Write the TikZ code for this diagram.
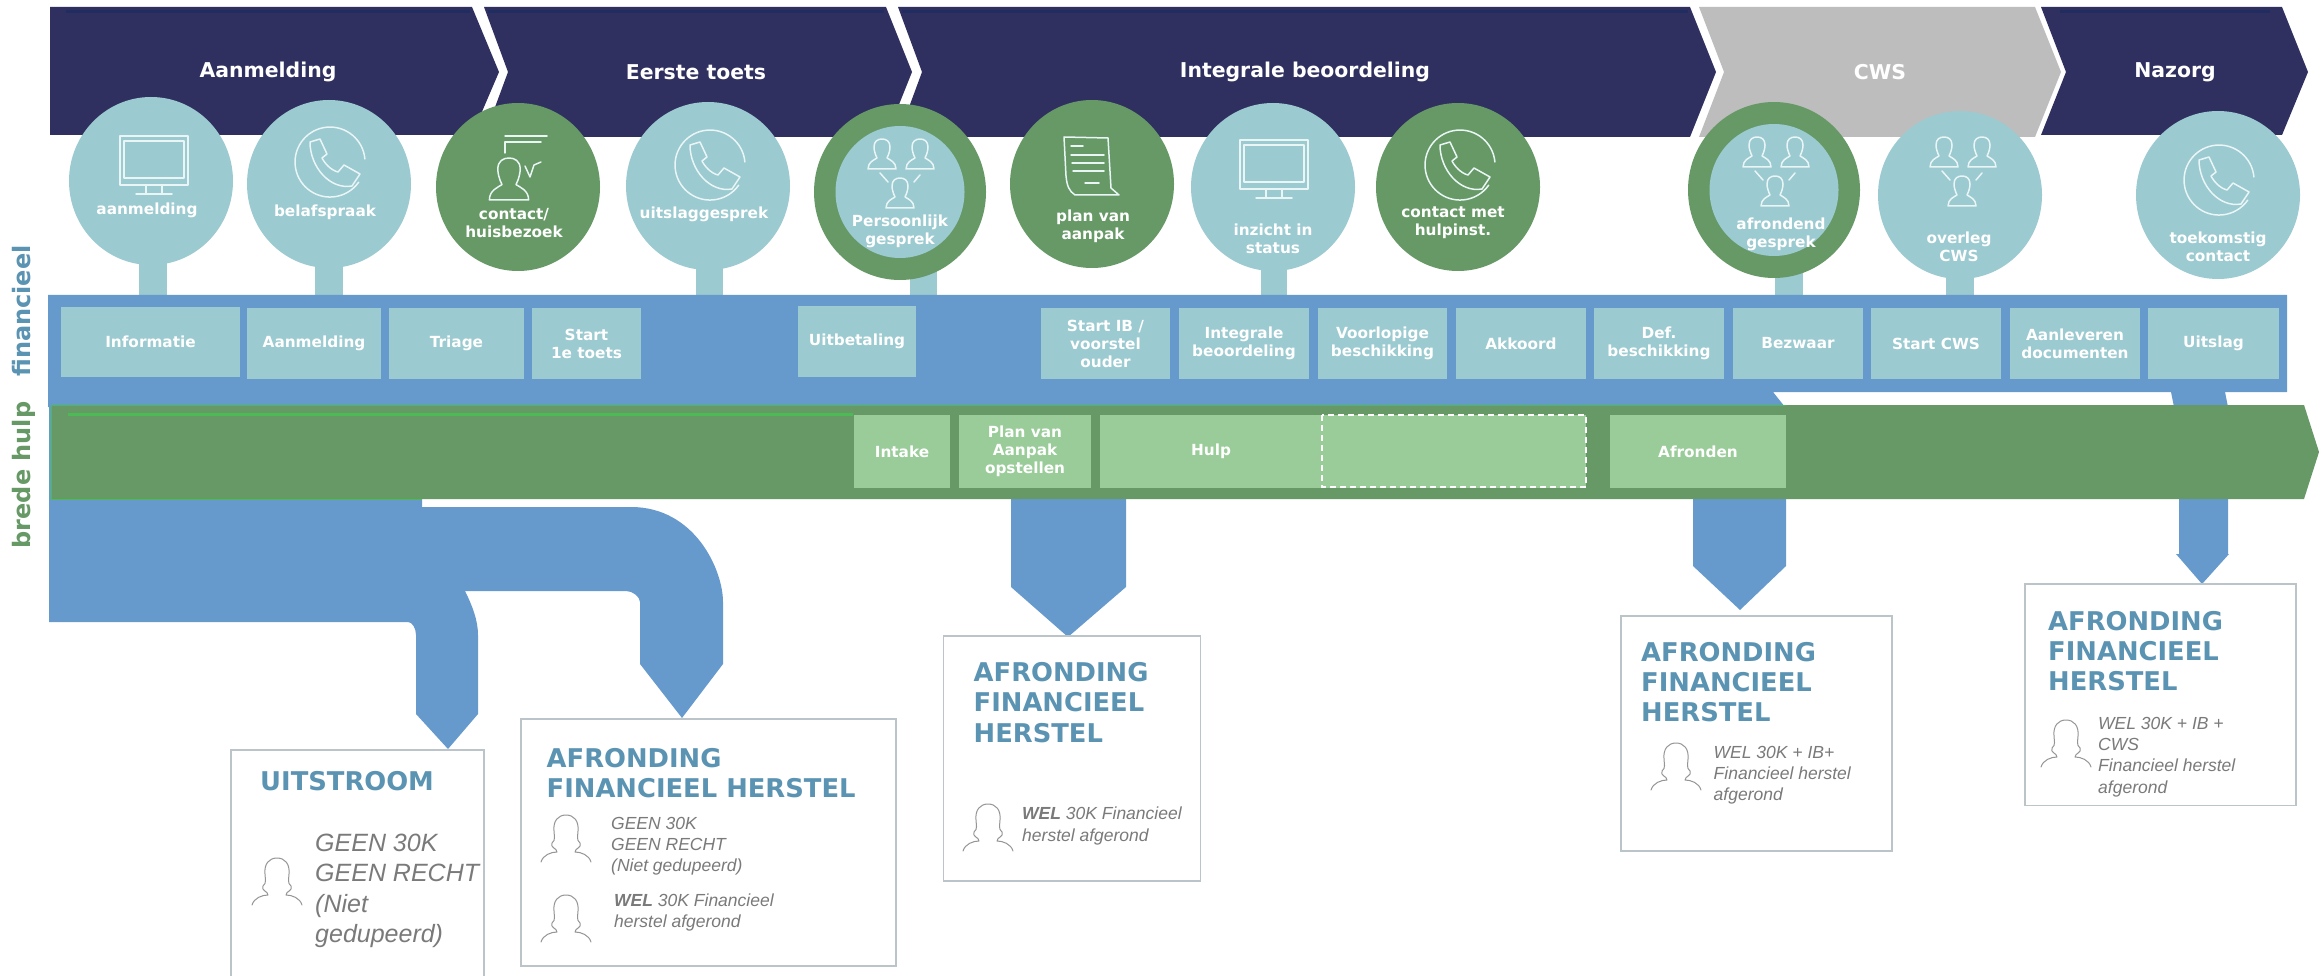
\documentclass[tikz,border=0pt]{standalone}
\usepackage{fontspec}
\usetikzlibrary{shapes.geometric}
\setmainfont{Liberation Sans}
\newfontfamily\vdfont{DejaVu Sans}
\definecolor{navy}{HTML}{2F3060}
\definecolor{navy2}{HTML}{1F2D60}
\definecolor{greyban}{HTML}{BDBDBD}
\definecolor{teal1}{HTML}{9BCAD0}
\definecolor{green1}{HTML}{669966}
\definecolor{green2}{HTML}{99CC99}
\definecolor{green3}{HTML}{4DBB55}
\definecolor{blue1}{HTML}{6699CC}
\definecolor{title1}{HTML}{5B93B2}
\definecolor{body1}{HTML}{7A7A7A}
\definecolor{frame1}{HTML}{BBC4C8}
\definecolor{icon1}{HTML}{EAF5F6}
\tikzset{
  lbl/.style={text=white,align=center,inner sep=0pt,font=\vdfont\bfseries\fontsize{15.3}{18}\selectfont},
  hdr/.style={text=white,align=center,inner sep=0pt,font=\vdfont\bfseries\fontsize{20.4}{24}\selectfont},
  ttl/.style={text=title1,align=left,anchor=west,inner sep=0pt,font=\vdfont\bfseries\fontsize{25.8}{30.3}\selectfont},
  bodytxt/.style={text=body1,align=left,anchor=west,inner sep=0pt,font=\itshape\fontsize{17.5}{21.2}\selectfont},
  bigtxt/.style={text=body1,align=left,anchor=west,inner sep=0pt,font=\itshape\fontsize{25}{30.5}\selectfont},
  bubble/.style={ellipse,inner sep=0pt,minimum width=164pt,minimum height=168pt,fill=teal1},
  gbubble/.style={bubble,fill=green1},
  ring/.style={bubble,fill=green1,minimum width=172pt,minimum height=176pt},
  ringin/.style={bubble,minimum width=129pt,minimum height=132pt},
  stem/.style={fill=teal1},
  tbox/.style={fill=teal1},
  hbox/.style={fill=green2},
  frame/.style={draw=frame1,line width=1.8pt,fill=white},
  iconln/.style={draw=icon1,line width=1.5pt,line join=round,line cap=round},
  woman/.style={draw=body1!80,line width=1pt,line join=round,line cap=round},
  sidetxt/.style={rotate=90,inner sep=0pt,font=\vdfont\bfseries\fontsize{24}{28}\selectfont},
  phoneicon/.pic={
    \draw[iconln] (34.9,-3) arc[start angle=-5,end angle=-325,radius=35];
    \draw[iconln] (-20,-20) -- (-10,-23) -- (-3,-8) -- (-8,-4) .. controls (-6,0) and (0,8) .. (8,10) -- (14,3) -- (30,12) -- (22,24) .. controls (0,28) and (-20,5) .. cycle;
  },
  monitoricon/.pic={
    \draw[iconln] (-34,-29) rectangle (34,20);
    \draw[iconln] (-30,-24) rectangle (30,13);
    \draw[iconln] (-8,20) -- (-8,28) (8,20) -- (8,28) (-18,29) -- (18,29);
  },
  busticon/.pic={
    \draw[iconln] (-14,15) .. controls (-14,8) and (-8,6) .. (-5,4) .. controls (-7,0) and (-8,-4) .. (-8,-7) .. controls (-8,-13) and (-4,-15) .. (0,-15) .. controls (4,-15) and (8,-13) .. (8,-7) .. controls (8,-4) and (7,0) .. (5,4) .. controls (8,6) and (14,8) .. (14,15) -- cycle;
  },
  peopleicon/.pic={
    \pic at (-18,-18) {busticon};
    \pic at (20,-18) {busticon};
    \pic at (0,21) {busticon};
    \draw[iconln] (-20,1) -- (-12,10) (20,3) -- (14,10);
  },
  docicon/.pic={
    \draw[iconln] (-27,-29) -- (17,-28) -- (20,22) -- (28,29) -- (-16,29) .. controls (-22,25) and (-24,20) .. (-25,10) -- cycle;
    \draw[iconln] (-20,-20) -- (-8,-20) (-20,-11) -- (13,-11) (-19,-3) -- (13,-3) (-18,5) -- (13,5) (-6,17) -- (8,17);
  },
  womanicon/.pic={
    \draw[woman] (-25,47) .. controls (-23,40) and (-15,37) .. (-9,37) .. controls (-9,33) and (-16,33) .. (-14,28) .. controls (-10,25) and (-12,20) .. (-12,16) .. controls (-13,6) and (-8,0) .. (0,0) .. controls (8,0) and (13,6) .. (12,16) .. controls (12,20) and (10,25) .. (14,28) .. controls (16,33) and (9,33) .. (9,37) .. controls (15,37) and (23,40) .. (25,47);
  },
}
\begin{document}
\begin{tikzpicture}[x=1pt,y=-1pt]
\useasboundingbox (0,0) rectangle (2323,976);
\fill[white] (0,0) rectangle (2323,976);
% process banners
\fill[navy] (50,7) -- (472,7) -- (499,72) -- (472,135) -- (50,135) -- cycle;
\fill[navy] (484,7) -- (886,7) -- (912,72) -- (886,137) -- (484,137) -- (508,72) -- cycle;
\fill[navy] (898,7) -- (1690,7) -- (1716,72) -- (1690,137) -- (898,137) -- (922,72) -- cycle;
\fill[greyban] (1699,7) -- (2035,7) -- (2061,72) -- (2035,137) -- (1699,137) -- (1724,72) -- cycle;
\fill[navy] (2041,7) -- (2282,7) -- (2308,72) -- (2282,135) -- (2041,135) -- (2066,72) -- cycle;
\draw[navy2,line width=3pt] (66,12) -- (470,12) (488,12) -- (884,12) (902,12) -- (1688,12) (2060,12) -- (2270,12);
\node[hdr] (h1) at (268,72) {Aanmelding};
\node[hdr] (h2) at (696,72) {Eerste toets};
\node[hdr] (h3) at (1305,72) {Integrale beoordeling};
\node[hdr] (h4) at (1880,72) {CWS};
\node[hdr] (h5) at (2175,72) {Nazorg};
% stems
\foreach \a/\b in {139/167,315/343,696/723,910/937,1261/1287,1775/1803,1946/1974}
  \fill[stem] (\a,200) rectangle (\b,297);
% financial band
\fill[blue1] (48,295) -- (2287,295) -- (2287,392) -- (2225,392) -- (2228,407) -- (2174,407) -- (2171,392) -- (1773,392) -- (1785,407) -- (48,407) -- cycle;
% bubbles
\node[bubble] (c1) at (151,181) {};
\node[bubble] (c2) at (329,184) {};
\node[gbubble] (c3) at (518,187) {};
\node[bubble] (c4) at (708,186) {};
\node[ring] (c5) at (900,192) {};
\node[ringin] (c5i) at (900,192) {};
\node[gbubble] (c6) at (1092,184) {};
\node[bubble] (c7) at (1273,187) {};
\node[gbubble] (c8) at (1458,187) {};
\node[ring] (c9) at (1774,190) {};
\node[ringin] (c9i) at (1774,190) {};
\node[bubble] (c10) at (1960,195) {};
\node[bubble] (c11) at (2218,195) {};
% icons
\pic at (154,165) {monitoricon};
\pic at (330,162) {phoneicon};
\pic at (710,165) {phoneicon};
\pic at (1460,165) {phoneicon};
\pic at (2219,180) {phoneicon};
\pic at (1274,169) {monitoricon};
\pic at (900,172) {peopleicon};
\pic at (1775,170) {peopleicon};
\pic at (1962,170) {peopleicon};
\pic at (1091,166) {docicon};
\pic[scale=1.4] at (509,179) {busticon};
\draw[iconln] (505,153) -- (505,142) -- (541,142);
\draw[iconln] (505,136) -- (547,136);
\draw[iconln] (525,166) -- (530,177) -- (534,165) -- (541,162);
% bubble labels
\node[lbl] (t1) at (147,210) {aanmelding};
\node[lbl] (t2) at (325,212) {belafspraak};
\node[lbl] (t3) at (514,223) {contact/\\huisbezoek};
\node[lbl] (t4) at (704,214) {uitslaggesprek};
\node[lbl] (t5) at (900,231) {Persoonlijk\\gesprek};
\node[lbl] (t6) at (1093,226) {plan van\\aanpak};
\node[lbl] (t7) at (1273,239) {inzicht in\\status};
\node[lbl] (t8) at (1453,223) {contact met\\hulpinst.};
\node[lbl] (t9) at (1781,234) {afrondend\\gesprek};
\node[lbl] (t10) at (1959,247) {overleg\\CWS};
\node[lbl] (t11) at (2218,247) {toekomstig\\contact};
% financial steps
\foreach \n/\xa/\xb/\ya/\yb/\t in {
  1/61/240/307/377/{Informatie},
  2/247/381/308/379/{Aanmelding},
  3/389/524/308/379/{Triage},
  4/532/641/308/379/{Start\\1e toets},
  5/798/916/306/377/{Uitbetaling},
  6/1041/1170/308/379/{Start IB /\\voorstel\\ouder},
  7/1179/1309/308/379/{Integrale\\beoordeling},
  8/1318/1447/308/379/{Voorlopige\\beschikking},
  9/1456/1586/308/379/{Akkoord},
  10/1594/1724/308/379/{Def.\\beschikking},
  11/1733/1863/308/379/{Bezwaar},
  12/1871/2001/308/379/{Start CWS},
  13/2010/2140/308/379/{Aanleveren\\documenten},
  14/2148/2279/308/379/{Uitslag}}
  \fill[tbox] (\xa,\ya) rectangle (\xb,\yb) node[pos=.5,lbl] (s\n) {\t};
% lower blue arrows
\fill[blue1] (49,400) -- (422,400) -- (422,507) -- (631,507) .. controls (695,507) and (723,570) .. (723,602) -- (723,664) -- (682,718) -- (640,664) -- (640,602) .. controls (640,597) and (633,591) .. (626,591) -- (465,591) .. controls (472,605) and (478,620) .. (478,635) -- (478,714) -- (448,749) -- (416,714) -- (416,635) .. controls (416,628) and (412,622) .. (408,622) -- (49,622) -- cycle;
\fill[blue1] (1011,495) -- (1126,495) -- (1126,587) -- (1068,637) -- (1011,587) -- cycle;
\fill[blue1] (1693,495) -- (1786,495) -- (1786,566) -- (1740,610) -- (1693,566) -- cycle;
\fill[blue1] (2179,495) -- (2228,495) -- (2228,554) -- (2229,554) -- (2202,584) -- (2176,554) -- (2179,554) -- cycle;
% help bar
\fill[green1] (51,405) -- (2304,405) -- (2319,452) -- (2304,499) -- (51,499) -- cycle;
\draw[green3,line width=.8pt] (51,405) -- (1786,405) (51,405) -- (51,499) -- (422,499);
\draw[green3,line width=3pt] (68,414) -- (853,414);
\fill[hbox] (854,415) rectangle (950,488) node[pos=.5,lbl] (g1) {Intake};
\fill[hbox] (959,415) rectangle (1091,488) node[pos=.5,lbl] (g2) {Plan van\\Aanpak\\opstellen};
\fill[hbox] (1100,415) rectangle (1322,488) node[pos=.5,lbl] (g3) {Hulp};
\fill[hbox] (1322,415) rectangle (1586,488);
\draw[white,dash pattern=on 6pt off 4pt,line width=1.2pt] (1322,415) rectangle (1586,487);
\fill[hbox] (1610,415) rectangle (1786,488) node[pos=.5,lbl] (g4) {Afronden};
% side labels
\node[sidetxt,text=title1] (fin) at (22,311) {financieel};
\node[sidetxt,text=green1] (bre) at (24,475) {brede hulp};
% outcome boxes
\draw[draw=frame1,line width=1.8pt] (231,976) -- (231,750) -- (484,750) -- (484,976);
\draw[frame] (521,719) rectangle (896,966);
\draw[frame] (943.5,636) rectangle (1200.5,881);
\draw[frame] (1621,616) rectangle (1892,851);
\draw[frame] (2025,584) rectangle (2296,805.5);
\node[ttl] (u1) at (260,781) {UITSTROOM};
\node[bigtxt] (u2) at (315,891) {GEEN 30K\\GEEN RECHT\\(Niet\\gedupeerd)};
\pic at (277,858) {womanicon};
\node[ttl] (a1) at (546.5,773) {AFRONDING\\FINANCIEEL HERSTEL};
\node[bodytxt] (a2) at (611,846) {GEEN 30K\\GEEN RECHT\\(Niet gedupeerd)};
\pic at (566,815) {womanicon};
\node[bodytxt] (a3) at (614,912.5) {\textbf{WEL} 30K Financieel\\herstel afgerond};
\pic at (566,895) {womanicon};
\node[ttl] (b1) at (973.5,702.5) {AFRONDING\\FINANCIEEL\\HERSTEL};
\node[bodytxt] (b2) at (1022,826) {\textbf{WEL} 30K Financieel\\herstel afgerond};
\pic at (988,804) {womanicon};
\node[ttl] (d1) at (1641,682) {AFRONDING\\FINANCIEEL\\HERSTEL};
\node[bodytxt] (d2) at (1713.5,775) {WEL 30K + IB+\\Financieel herstel\\afgerond};
\pic at (1676,743) {womanicon};
\node[ttl] (e1) at (2048,651) {AFRONDING\\FINANCIEEL\\HERSTEL};
\node[bodytxt] (e2) at (2098,757) {WEL 30K + IB +\\CWS\\Financieel herstel\\afgerond};
\pic at (2066,720) {womanicon};
\end{tikzpicture}
\end{document}
